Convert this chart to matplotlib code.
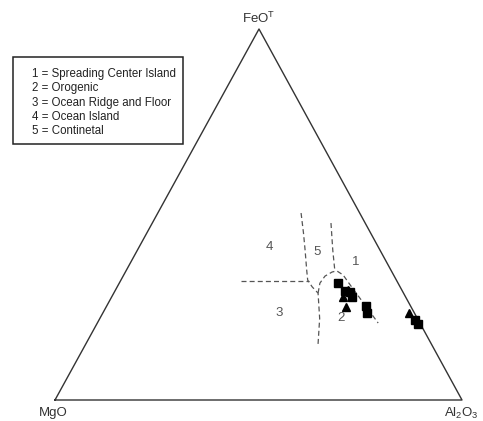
import numpy as np
import matplotlib
matplotlib.use('Agg')
import matplotlib.pyplot as plt
from matplotlib.patches import Rectangle

plt.rcParams['font.family'] = ['Liberation Sans', 'DejaVu Sans']

# sample compositions, fractions (FeO, MgO, Al2O3)
sq_feo = [0.315, 0.294, 0.291, 0.278, 0.253, 0.235, 0.216, 0.205]
sq_mgo = [0.148, 0.141, 0.130, 0.131, 0.110, 0.116, 0.008, 0.006]
tri_feo = [0.278, 0.296, 0.251, 0.235]
tri_mgo = [0.153, 0.133, 0.160, 0.013]

# field boundaries (FeO, Al2O3)
b34_feo = [0.321, 0.321]
b34_al = [0.296, 0.462]
b45_feo = [0.504, 0.450, 0.404, 0.350, 0.323, 0.305, 0.288, 0.220, 0.148]
b45_al = [0.352, 0.385, 0.412, 0.443, 0.459, 0.479, 0.502, 0.540, 0.572]
b51_feo = [0.477, 0.404, 0.350]
b51_al = [0.439, 0.480, 0.512]
b12_feo = [0.288, 0.315, 0.334, 0.345, 0.348, 0.337, 0.310, 0.2075]
b12_al = [0.502, 0.493, 0.496, 0.508, 0.518, 0.539, 0.570, 0.690]

# field number labels (FeO, Al2O3)
fld_lab = ['1', '2', '3', '4', '5']
fld_feo = [0.372, 0.221, 0.2345, 0.412, 0.399]
fld_al = [0.553, 0.592, 0.433, 0.319, 0.444]

legend_lines = ['1 = Spreading Center Island', '2 = Orogenic',
                '3 = Ocean Ridge and Floor', '4 = Ocean Island', '5 = Continetal']

def tern(feo, al):
    feo = np.asarray(feo); al = np.asarray(al)
    return al + 0.5012*feo, feo

fig = plt.figure(figsize=(4.83, 4.21), dpi=100)
ax = fig.add_axes([55/483, 21/421, 407/483, 371/421])
ax.set_xlim(0, 1)
ax.set_ylim(0, 1)
ax.axis('off')

# triangle outline
tx, ty = tern([0, 0, 1, 0], [0, 1, 0, 0])
ax.plot(tx, ty, color='#333333', lw=1.0, clip_on=False)

dash = dict(color='#555555', lw=0.9, ls=(0, (4, 2.5)))
for f, a in [(b34_feo, b34_al), (b45_feo, b45_al), (b51_feo, b51_al), (b12_feo, b12_al)]:
    x, y = tern(f, a)
    ax.plot(x, y, **dash)

for lab, f, a in zip(fld_lab, fld_feo, fld_al):
    x, y = tern(f, a)
    ax.text(x, y, lab, fontsize=9.5, color='#555555', ha='center', va='center')

sq_al = 1 - np.array(sq_feo) - np.array(sq_mgo)
x, y = tern(sq_feo, sq_al)
ax.plot(x, y, 's', color='black', ms=5.5, clip_on=False)
tri_al = 1 - np.array(tri_feo) - np.array(tri_mgo)
x, y = tern(tri_feo, tri_al)
ax.plot(x, y, '^', color='black', ms=5.5, clip_on=False)

# vertex labels
fig.text(259/483, 1-18/421, r'FeO$^\mathregular{T}$', fontsize=9.5, ha='center', va='center', color='#333333')
fig.text(53/483, 1-413/421, 'MgO', fontsize=9.5, ha='center', va='center', color='#333333')
fig.text(461/483, 1-413/421, r'Al$_\mathregular{2}$O$_\mathregular{3}$', fontsize=9.5, ha='center', va='center', color='#333333')

# legend box
fig.patches.append(Rectangle((13/483, 1-144/421), 170/483, 87/421, transform=fig.transFigure,
                             fill=False, edgecolor='#222222', lw=1.1))
for i, s in enumerate(legend_lines):
    fig.text(32/483, 1-(74+14.3*i)/421, s, fontsize=8.3, ha='left', va='center', color='#222222')

fig.savefig('out.png', dpi=100)
